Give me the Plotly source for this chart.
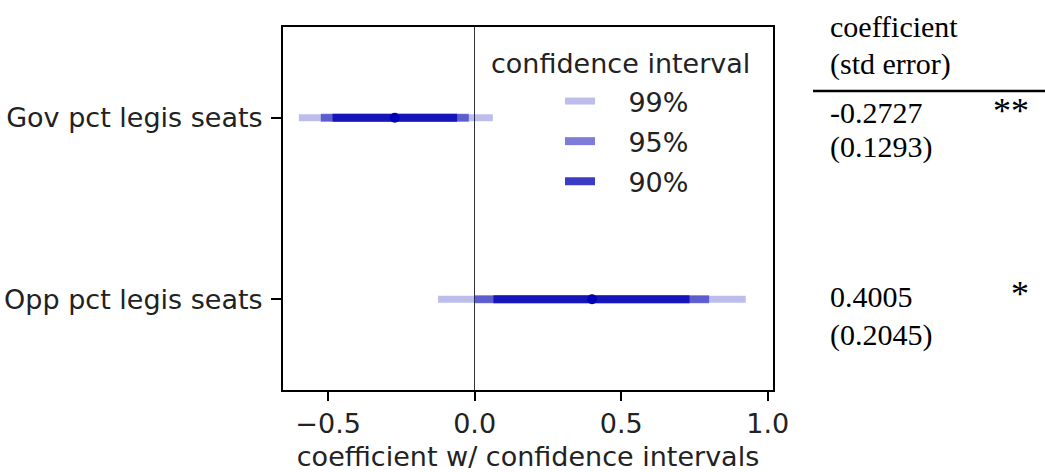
import plotly.graph_objects as go

# ---- data ----
variables = ["Gov pct legis seats", "Opp pct legis seats"]
coef = [-0.2727, 0.4005]
std_err = [0.1293, 0.2045]
stars = ["**", "*"]
ci_levels = ["99%", "95%", "90%"]
ci_low = {"99%": [-0.600, -0.125], "95%": [-0.525, 0.001], "90%": [-0.485, 0.064]}
ci_high = {"99%": [0.062, 0.925], "95%": [-0.020, 0.800], "90%": [-0.060, 0.733]}
x_ticks = [-0.5, 0.0, 0.5, 1.0]
legend_title = "confidence interval"

# ---- style ----
base = (0, 0, 180)
alphas = {"99%": 0.26, "95%": 0.51, "90%": 0.77}
widths = {"99%": 7, "95%": 8, "90%": 8}

W, H = 1045, 472
L, R, T, B = 283, 773, 27, 390   # plot-area pixel box


def px_x(px):
    return (px - L) / (R - L)


def px_y(py):
    return (B - py) / (B - T)


fig = go.Figure()
ypos = list(range(len(variables)))
PAD = "\u00a0" * 3 + "\u200a"
for i, lvl in enumerate(ci_levels):
    xs, ys = [], []
    for j, yv in enumerate(ypos):
        xs += [ci_low[lvl][j], ci_high[lvl][j], None]
        ys += [yv, yv, None]
    fig.add_trace(go.Scatter(
        x=xs, y=ys, mode="lines", name=PAD + lvl, legendgroup=lvl,
        line=dict(color=f"rgba({base[0]},{base[1]},{base[2]},{alphas[lvl]})",
                  width=widths[lvl]),
        hoverinfo="skip"))

fig.add_trace(go.Scatter(
    x=coef, y=ypos, mode="markers", showlegend=False,
    marker=dict(color=f"rgb({base[0]},{base[1]},{base[2]})", size=10)))

axis_font = dict(family="DejaVu Sans", size=27, color="#222222")

fig.update_xaxes(
    range=[-0.654, 1.018], tickvals=x_ticks, tickformat=".1f",
    showgrid=False, zeroline=True, zerolinecolor="#333333", zerolinewidth=1.3,
    showline=True, linecolor="black", linewidth=2, mirror=True,
    ticks="outside", ticklen=9, tickwidth=2, tickcolor="black",
    tickfont=axis_font, automargin=False,
    title=dict(text="coefficient w/ confidence intervals", font=axis_font, standoff=12))
fig.update_yaxes(
    range=[1.5, -0.5], tickvals=ypos, ticktext=variables,
    showgrid=False, zeroline=False,
    showline=True, linecolor="black", linewidth=2, mirror=True,
    ticks="outside", ticklen=10, tickwidth=2, tickcolor="black",
    tickfont=axis_font, ticklabelstandoff=3, automargin=False)

# legend title
fig.add_annotation(xref="paper", yref="paper", showarrow=False,
                   x=px_x(620), y=px_y(63), xanchor="center", yanchor="middle",
                   text=legend_title, font=axis_font)

# table on the right
serif = dict(family="Liberation Serif", size=30, color="black")
star_font = dict(family="Liberation Serif", size=36, color="black")
ann = []
ann.append(dict(text="coefficient", x=px_x(828), y=px_y(26)))
ann.append(dict(text="(std error)", x=px_x(828), y=px_y(64)))
rows_y = [(113, 147), (296, 335)]
for j in range(len(variables)):
    ann.append(dict(text=f"{coef[j]:.4f}", x=px_x(828), y=px_y(rows_y[j][0])))
    ann.append(dict(text=f"({std_err[j]:.4f})", x=px_x(828), y=px_y(rows_y[j][1])))
    ann.append(dict(text=stars[j], x=px_x(1031), y=px_y(rows_y[j][0] - 2),
                    xanchor="right", font=star_font))
for a in ann:
    a.setdefault("xanchor", "left")
    a.setdefault("font", serif)
    fig.add_annotation(xref="paper", yref="paper", showarrow=False,
                       yanchor="middle", **a)

fig.add_shape(type="line", xref="paper", yref="paper",
              x0=px_x(813), x1=px_x(1045), y0=px_y(91), y1=px_y(91),
              line=dict(color="black", width=2.5))

fig.update_layout(
    width=W, height=H,
    margin=dict(l=L, r=W - R, t=T, b=H - B, pad=0, autoexpand=False),
    paper_bgcolor="white", plot_bgcolor="white",
    showlegend=True,
    legend=dict(
        x=px_x(560), y=px_y(77), xanchor="left", yanchor="top",
        bgcolor="rgba(0,0,0,0)", font=axis_font,
        itemwidth=30, tracegroupgap=2),
)

fig.write_html("out.html")
